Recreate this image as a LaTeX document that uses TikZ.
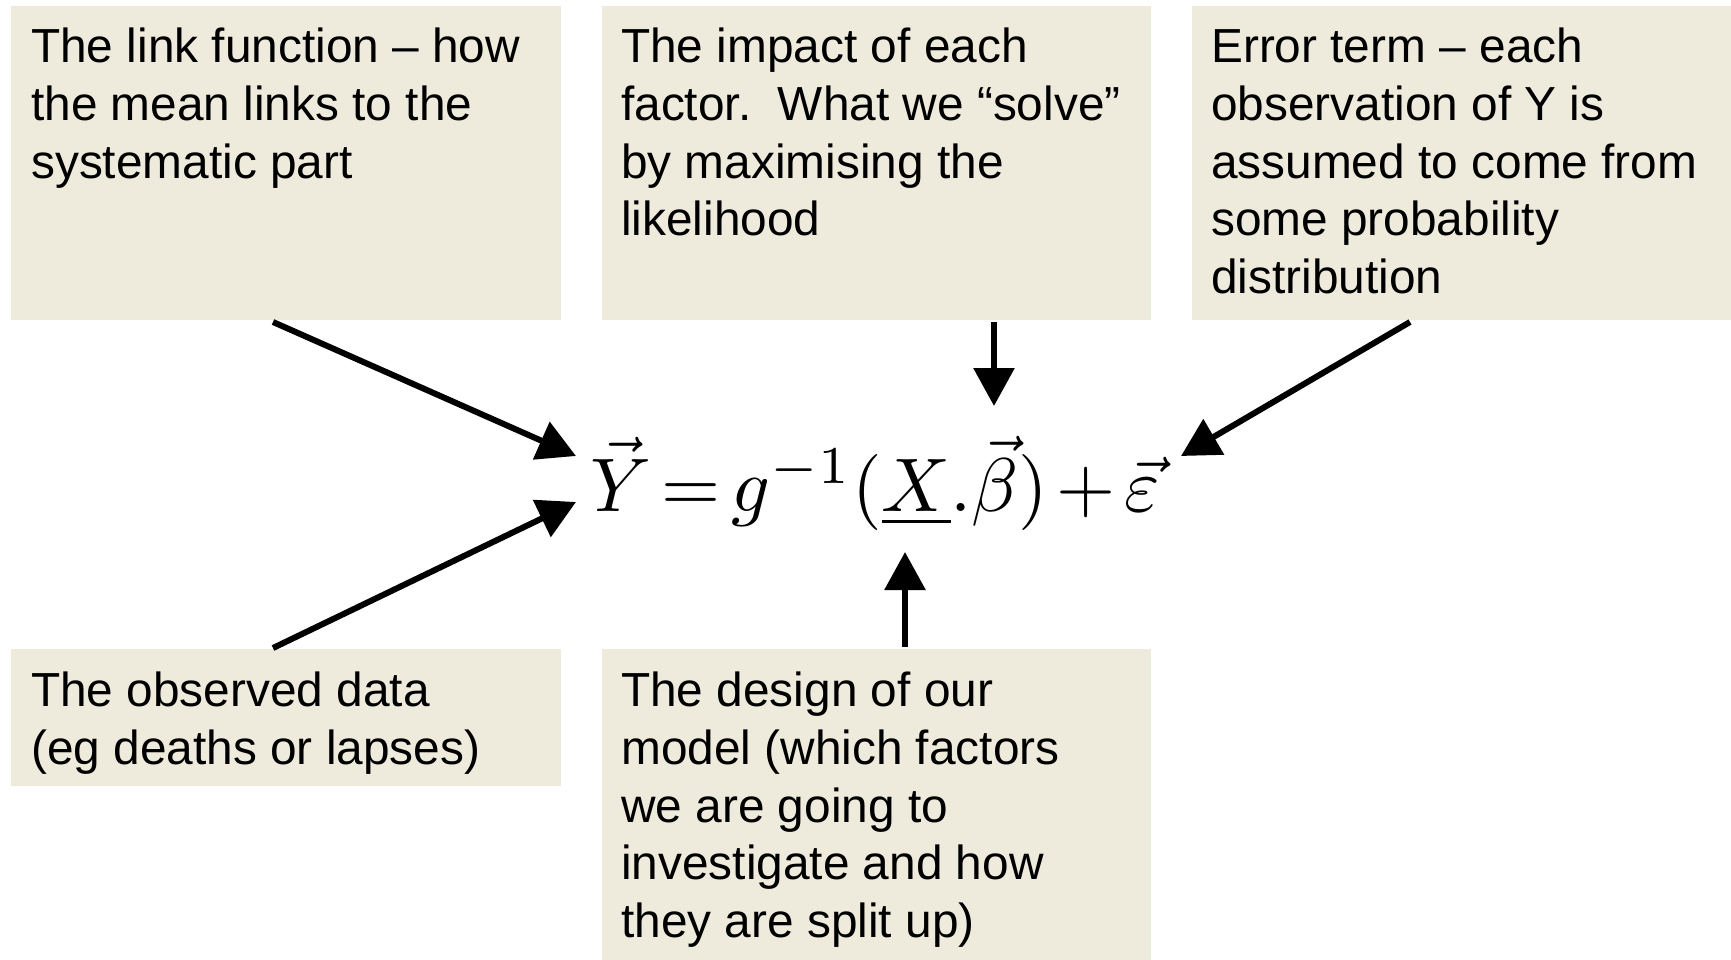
\documentclass[tikz,border=0pt]{standalone}
\usepackage{graphicx}
\usepackage{fontspec}
\setmainfont{Liberation Sans}
\usetikzlibrary{arrows.meta}
\definecolor{boxfill}{HTML}{EEEBDD}
\begin{document}
\begin{tikzpicture}[x=1pt,y=-1pt,
  panel/.style={fill=boxfill, draw=none, inner sep=0pt, anchor=north west},
  boxtext/.style={anchor=north west, inner sep=0pt, align=left, font=\fontsize{47.8}{57.7}\selectfont},
  conn/.style={line width=6pt, -{Triangle[length=38pt,width=40pt]}}
]
\useasboundingbox (0,0) rectangle (1731,960);
% panels
\node[panel, minimum width=550pt, minimum height=314pt] (box1) at (11,6) {};
\node[panel, minimum width=549pt, minimum height=314pt] (box2) at (602,6) {};
\node[panel, minimum width=539pt, minimum height=314pt] (box3) at (1192,6) {};
\node[panel, minimum width=550pt, minimum height=137pt] (box4) at (11,649) {};
\node[panel, minimum width=549pt, minimum height=311pt] (box5) at (602,649) {};
% texts
\node[boxtext] (t1) at (31,28) {The link function -- how\\the mean links to the\\systematic part};
\node[boxtext] (t2) at (621,28) {The impact of each\\factor.\ \ What we “solve”\\by maximising the\\likelihood};
\node[boxtext] (t3) at (1211,28) {Error term -- each\\observation of Y is\\assumed to come from\\some probability\\distribution};
\node[boxtext] (t4) at (31,672) {The observed data\\(eg deaths or lapses)};
\node[boxtext] (t5) at (621,672) {The design of our\\model (which factors\\we are going to\\investigate and how\\they are split up)};
% equation
\node[anchor=base, inner sep=0pt] (eq) at (875,511)
  {\scalebox{7.6}{\thickmuskip=2.5mu\medmuskip=2mu$\vec{Y} = g^{-1}(\underline{X}.\vec{\beta}) + \vec{\varepsilon}$}};
% connector ends
\coordinate (s1) at (273,322);
\coordinate (e1) at (576,456);
\coordinate (s2) at (273,648);
\coordinate (e2) at (576,502);
\coordinate (s3) at (994,322);
\coordinate (e3) at (994,406);
\coordinate (s4) at (1410,322);
\coordinate (e4) at (1181,456);
\coordinate (s5) at (905,647);
\coordinate (e5) at (905,552);
\draw[conn] (s1) -- (e1);
\draw[conn] (s2) -- (e2);
\draw[conn] (s3) -- (e3);
\draw[conn] (s4) -- (e4);
\draw[conn] (s5) -- (e5);
\end{tikzpicture}
\end{document}
